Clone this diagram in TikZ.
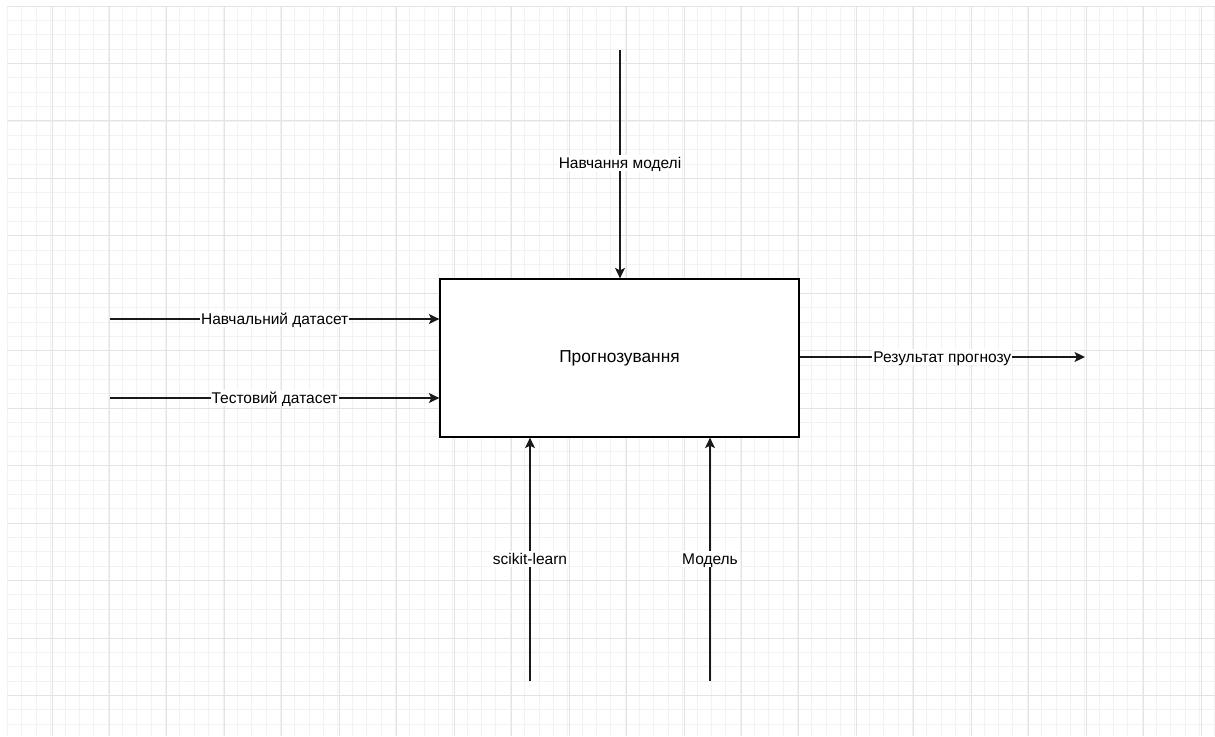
\documentclass[tikz,border=0pt]{standalone}
\usepackage{fontspec}
\setmainfont{Liberation Sans}
\usetikzlibrary{arrows.meta}
\begin{document}
\begin{tikzpicture}[x=1pt,y=-1pt,
  conn/.style={line width=1.3pt,draw=black!90,-{Stealth[length=10.5pt,width=10pt,inset=2.5pt]}},
  lbl/.style={fill=white,inner xsep=1pt,inner ysep=1pt,text height=12.5pt,text depth=1.5pt,font=\fontsize{15.5}{18}\selectfont},
  procbox/.style={draw=black,line width=1.3pt,fill=white,minimum width=359pt,minimum height=158pt,inner sep=0pt,font=\fontsize{17.3}{20}\selectfont}
]
\useasboundingbox (0,0) rectangle (1215,736);
% grid
\begin{scope}
\clip (7,6) rectangle (1215,736);
\foreach \i in {-1,...,85} {
  \draw[line width=0.8pt,draw=black!5] ({7.5+14.3625*\i},6) -- ({7.5+14.3625*\i},736);
}
\foreach \i in {0,...,51} {
  \draw[line width=0.8pt,draw=black!5] (7,{6+14.3625*\i}) -- (1215,{6+14.3625*\i});
}
\foreach \i in {0,...,21} {
  \draw[line width=0.9pt,draw=black!11] ({52+57.45*\i},6) -- ({52+57.45*\i},736);
}
\foreach \i in {0,...,13} {
  \draw[line width=0.9pt,draw=black!11] (7,{6+57.45*\i}) -- (1215,{6+57.45*\i});
}
\end{scope}
% main box
\node[procbox,text height=12.5pt,text depth=3pt] (box) at (619.5,358) {Прогнозування};
% free ends
\coordinate (topin) at (620,50);
\coordinate (in1) at (110,319);
\coordinate (in2) at (110,398);
\coordinate (outend) at (1085,357);
\coordinate (mech1) at (530,681);
\coordinate (mech2) at (710,681);
% connectors
\draw[conn] (topin) -- (topin |- box.north) node[lbl,pos=0.495] {Навчання моделі};
\draw[conn] (in1) -- (in1 -| box.west) node[lbl,pos=0.5] {Навчальний датасет};
\draw[conn] (in2) -- (in2 -| box.west) node[lbl,pos=0.5] {Тестовий датасет};
\draw[conn] (outend -| box.east) -- (outend) node[lbl,pos=0.5] {Результат прогнозу};
\draw[conn] (mech1) -- (mech1 |- box.south) node[lbl,pos=0.5] {scikit-learn};
\draw[conn] (mech2) -- (mech2 |- box.south) node[lbl,pos=0.5] {Модель};
\end{tikzpicture}
\end{document}
